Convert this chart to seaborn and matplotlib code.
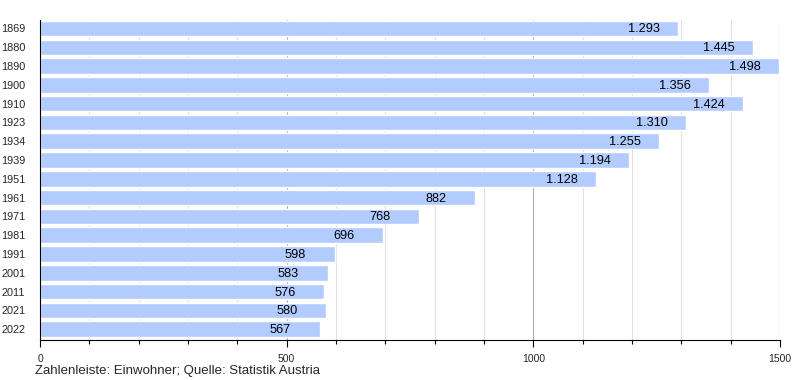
import pandas as pd
import seaborn as sns
from matplotlib import pyplot as plt
from matplotlib.ticker import MultipleLocator

# data
years = ['1869', '1880', '1890', '1900', '1910', '1923', '1934', '1939', '1951',
         '1961', '1971', '1981', '1991', '2001', '2011', '2021', '2022']
population = [1293, 1445, 1498, 1356, 1424, 1310, 1255, 1194, 1128,
              882, 768, 696, 598, 583, 576, 580, 567]

df = pd.DataFrame({'Jahr': years, 'Einwohner': population})

sns.set_style('white')
plt.rcParams['font.family'] = ['Liberation Sans', 'DejaVu Sans']

fig = plt.figure(figsize=(8, 3.8), dpi=100)
ax = fig.add_axes([0.05, 0.105, 0.925, 0.842])

sns.barplot(data=df, x='Einwohner', y='Jahr', orient='h', color='#b3ccff',
            saturation=1, width=0.82, ax=ax, zorder=2)

# value labels, German thousands separator
for i, v in enumerate(df['Einwohner']):
    label = '{:,}'.format(v).replace(',', '.')
    ax.annotate(label, xy=(v, i), xytext=(-50, 0.5), textcoords='offset pixels',
                ha='left', va='center_baseline', fontsize=9.2, color='black', zorder=3)

ax.set_xlim(0, 1500)
ax.set_ylim(16.58, -0.44)
ax.xaxis.set_major_locator(MultipleLocator(500))
ax.xaxis.set_minor_locator(MultipleLocator(100))
ax.grid(which='major', axis='x', color='#b0b0b0', linewidth=0.8, zorder=0)
ax.grid(which='minor', axis='x', color='#e2e2e2', linewidth=0.8, zorder=0)
ax.set_axisbelow(True)

for s in ['top', 'right']:
    ax.spines[s].set_visible(False)
ax.spines['left'].set_color('black')
ax.spines['bottom'].set_color('black')

ax.tick_params(axis='x', which='major', bottom=True, length=5, width=0.8,
               color='black', labelsize=7.5, pad=5)
ax.tick_params(axis='x', which='minor', bottom=True, length=3, width=0.8,
               color='black')
ax.tick_params(axis='y', left=False, labelsize=7.8, pad=7)
ax.set_xlabel('')
ax.set_ylabel('')

fig.text(0.044, 0.024, 'Zahlenleiste: Einwohner; Quelle: Statistik Austria',
         fontsize=9.5, ha='left', va='center')

fig.savefig('out.png', dpi=100)
